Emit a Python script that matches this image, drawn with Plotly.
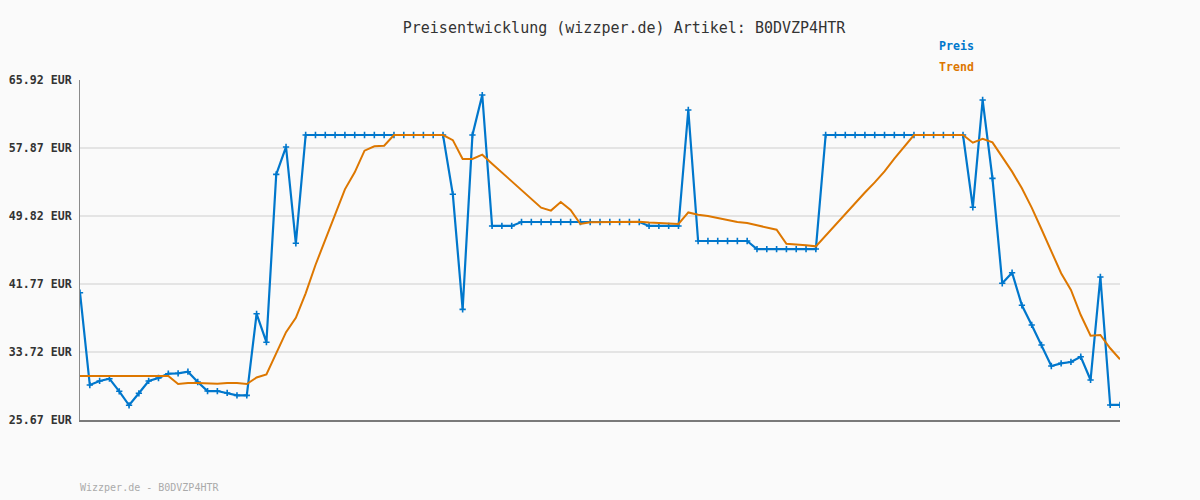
import plotly.graph_objects as go

title_text = "Preisentwicklung (wizzper.de) Artikel: B0DVZP4HTR"
footer_text = "Wizzper.de - B0DVZP4HTR"
tick_values = [25.67, 33.72, 41.77, 49.82, 57.87, 65.92]
tick_labels = ["25.67 EUR", "33.72 EUR", "41.77 EUR", "49.82 EUR", "57.87 EUR", "65.92 EUR"]

preis = [40.74, 29.81, 30.29, 30.56, 29.07, 27.41, 28.83, 30.29, 30.64, 31.15,
         31.20, 31.39, 30.17, 29.10, 29.10, 28.87, 28.59, 28.59, 38.24, 34.88,
         54.75, 57.99, 46.59, 59.41, 59.41, 59.41, 59.41, 59.41, 59.41, 59.41,
         59.41, 59.41, 59.41, 59.41, 59.41, 59.41, 59.41, 59.41, 52.39, 38.77,
         59.41, 64.14, 48.64, 48.64, 48.64, 49.11, 49.11, 49.11, 49.11, 49.11,
         49.11, 49.11, 49.11, 49.11, 49.11, 49.11, 49.11, 49.11, 48.64, 48.64,
         48.64, 48.64, 62.37, 46.86, 46.86, 46.86, 46.86, 46.86, 46.86, 45.91,
         45.91, 45.91, 45.91, 45.91, 45.91, 45.91, 59.41, 59.41, 59.41, 59.41,
         59.41, 59.41, 59.41, 59.41, 59.41, 59.41, 59.41, 59.41, 59.41, 59.41,
         59.41, 50.85, 63.55, 54.28, 41.85, 43.11, 39.25, 36.92, 34.55, 32.06,
         32.38, 32.54, 33.16, 30.41, 42.60, 27.45, 27.45]

trend = [30.88, 30.88, 30.88, 30.88, 30.88, 30.88, 30.88, 30.88, 30.88, 30.88,
         29.93, 30.05, 30.05, 29.97, 29.97, 30.05, 30.05, 29.93, 30.70, 31.06,
         33.50, 36.07, 37.77, 40.67, 44.02, 46.98, 49.94, 52.98, 54.99, 57.55,
         58.07, 58.14, 59.41, 59.41, 59.41, 59.41, 59.41, 59.41, 58.80, 56.57,
         56.57, 57.08, 56.01, 54.95, 53.90, 52.85, 51.83, 50.81, 50.46, 51.48,
         50.53, 48.87, 49.08, 49.10, 49.11, 49.14, 49.14, 49.14, 49.05, 49.00,
         48.95, 48.87, 50.24, 49.96, 49.82, 49.62, 49.35, 49.11, 48.99, 48.72,
         48.48, 48.20, 46.54, 46.47, 46.35, 46.23, 47.50, 48.80, 50.10, 51.40,
         52.60, 53.80, 55.10, 56.60, 58.00, 59.41, 59.41, 59.41, 59.41, 59.41,
         59.41, 58.50, 58.97, 58.54, 56.77, 55.07, 53.10, 50.81, 48.25, 45.60,
         43.04, 41.06, 38.10, 35.65, 35.73, 34.16, 32.86]

x_idx = list(range(len(preis)))

BLUE = "#0077cc"
ORANGE = "#dd7700"
FONT = "DejaVu Sans Mono"

fig = go.Figure()
fig.add_trace(go.Scatter(
    x=x_idx, y=preis, mode="lines+markers", name="Preis",
    line=dict(color=BLUE, width=2.2),
    marker=dict(symbol="cross-thin", size=4.5, line=dict(color=BLUE, width=1.6)),
    hoverinfo="y"))
fig.add_trace(go.Scatter(
    x=x_idx, y=trend, mode="lines", name="Trend",
    line=dict(color=ORANGE, width=2), hoverinfo="y"))

fig.update_layout(
    width=1200, height=500,
    margin=dict(l=80, r=80, t=80, b=80, autoexpand=False),
    paper_bgcolor="#fafafa", plot_bgcolor="#fafafa",
    showlegend=False,
    font=dict(family=FONT, color="#333333"),
    title=dict(text=title_text, x=624/1200, xanchor="center",
               y=1-28/500, yanchor="middle", yref="container",
               font=dict(family=FONT, size=15, color="#333333")),
    xaxis=dict(range=[0, len(preis)-1], showgrid=False, zeroline=False,
               showticklabels=False, ticks="", showline=True, automargin=False,
               linecolor="#7a7a7a", linewidth=2),
    yaxis=dict(range=[tick_values[0], tick_values[-1]], tickmode="array",
               tickvals=tick_values, ticktext=["<b>%s</b>" % t for t in tick_labels],
               tickfont=dict(family=FONT, size=11.6, color="#333333"),
               showgrid=True, gridcolor="#e4e4e4", gridwidth=2, automargin=False,
               zeroline=False, ticks="", ticklabelstandoff=5,
               showline=True, linecolor="#8a8a8a", linewidth=1),
    annotations=[
        dict(text="<b>Preis</b>", xref="paper", yref="paper",
             x=(937-80)/1040, y=(420-46)/340, xanchor="left", yanchor="middle",
             showarrow=False, font=dict(family=FONT, size=11.6, color=BLUE)),
        dict(text="<b>Trend</b>", xref="paper", yref="paper",
             x=(937-80)/1040, y=(420-67)/340, xanchor="left", yanchor="middle",
             showarrow=False, font=dict(family=FONT, size=11.6, color=ORANGE)),
        dict(text=footer_text, xref="paper", yref="paper",
             x=-2/1040, y=(420-487)/340, xanchor="left", yanchor="middle",
             showarrow=False, font=dict(family=FONT, size=10, color="#aaaaaa")),
    ],
)

fig.write_html("out.html", config={"displayModeBar": False},
               post_script="document.body.style.margin='0';document.body.style.background='#fafafa';")
